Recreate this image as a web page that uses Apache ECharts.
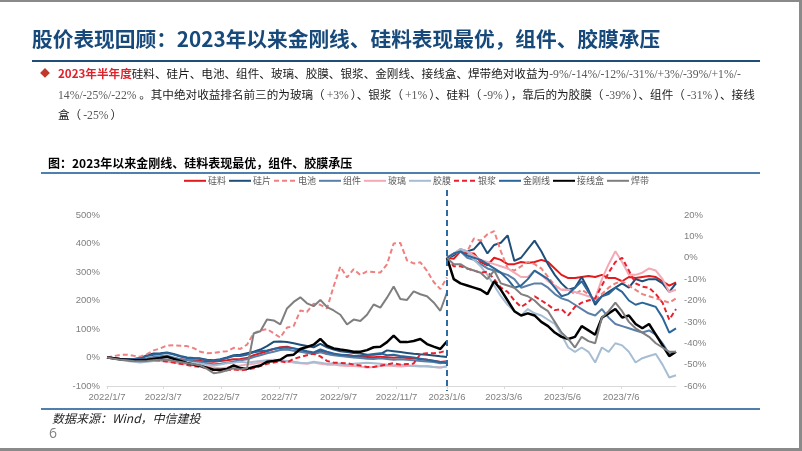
<!DOCTYPE html>
<html><head><meta charset="utf-8">
<script src="https://cdn.jsdelivr.net/npm/echarts@6/dist/echarts.min.js"></script>
<style>
html,body{margin:0;padding:0;background:#fff;}
#wrap{position:relative;width:802px;height:451px;overflow:hidden;background:#fff;font-family:"Noto Sans CJK SC","Noto Sans",sans-serif;}
#chart{position:absolute;left:0;top:0;width:802px;height:451px;}
.t{position:absolute;white-space:nowrap;}
.bar{position:absolute;}
.num{font-family:"Liberation Serif","DejaVu Serif",serif;color:#595959;font-size:11.7px;}
.pn{padding:0 2px;}
.red{color:#E0202A;font-weight:bold;}
.p{font-size:11.6px;line-height:20px;color:#1a1a1a;}
</style></head>
<body>
<div id="wrap">
  <div id="chart"></div>
  <div class="bar" style="left:0;top:0;width:802px;height:2px;background:#8a8a8a"></div>
  <div class="bar" style="left:799px;top:0;width:3px;height:451px;background:#8a8a8a"></div>
  <div class="bar" style="left:0;top:448px;width:802px;height:3px;background:#8a8a8a"></div>
  <div class="t" style="left:32px;top:25px;font-size:20.7px;line-height:26px;font-weight:bold;color:#17497A;">股价表现回顾：2023年以来金刚线、硅料表现最优，组件、胶膜承压</div>
  <div class="bar" style="left:32px;top:60px;width:728px;height:2px;background:#1F4E79"></div>
  <div class="t" style="left:40px;top:66px;font-size:10px;line-height:14px;color:#C0392B;">◆</div>
  <div class="t p" style="left:58px;top:63px;"><span class="red">2023年半年度</span>硅料、硅片、电池、组件、玻璃、胶膜、银浆、金刚线、接线盒、焊带绝对收益为<span class="num">-9%/-14%/-12%/-31%/+3%/-39%/+1%/-</span></div>
  <div class="t p" style="left:58px;top:83.5px;"><span class="num">14%/-25%/-22%</span> 。其中绝对收益排名前三的为玻璃（<span class="num pn">+3%</span>）、银浆（<span class="num pn">+1%</span>）、硅料（<span class="num pn">-9%</span>），靠后的为胶膜（<span class="num pn">-39%</span>）、组件（<span class="num pn">-31%</span>）、接线</div>
  <div class="t p" style="left:58px;top:104px;">盒（<span class="num pn">-25%</span>）</div>
  <div class="t" style="left:48px;top:155px;font-size:12px;line-height:16px;font-weight:bold;color:#000;">图：2023年以来金刚线、硅料表现最优，组件、胶膜承压</div>
  <div class="bar" style="left:41px;top:172px;width:719px;height:2px;background:#4F7FAD"></div>
  <div class="bar" style="left:41px;top:408px;width:719px;height:2px;background:#4F7FAD"></div>
  <div class="t" style="left:52px;top:410px;font-size:12px;line-height:16px;font-style:italic;color:#262626;">数据来源：Wind，中信建投</div>
  <div class="t" style="left:49px;top:424px;font-size:14px;line-height:18px;color:#808080;font-family:'Open Sans','Noto Sans',sans-serif;">6</div>
</div>
<script>
// ---- categories ----
const seriesNames = ['硅料','硅片','电池','组件','玻璃','胶膜','银浆','金刚线','接线盒','焊带'];
const leftDates = ['2022/1/7','2022/1/14','2022/1/21','2022/1/28','2022/2/4','2022/2/11','2022/2/18','2022/2/25','2022/3/4','2022/3/11','2022/3/18','2022/3/25','2022/4/1','2022/4/8','2022/4/15','2022/4/22','2022/4/29','2022/5/6','2022/5/13','2022/5/20','2022/5/27','2022/6/3','2022/6/10','2022/6/17','2022/6/24','2022/7/1','2022/7/8','2022/7/15','2022/7/22','2022/7/29','2022/8/5','2022/8/12','2022/8/19','2022/8/26','2022/9/2','2022/9/9','2022/9/16','2022/9/23','2022/9/30','2022/10/7','2022/10/14','2022/10/21','2022/10/28','2022/11/4','2022/11/11','2022/11/18','2022/11/25','2022/12/2','2022/12/9','2022/12/16','2022/12/23','2022/12/30'];
const rightDates = ['2023/1/6','2023/1/13','2023/1/20','2023/1/27','2023/2/3','2023/2/10','2023/2/17','2023/2/24','2023/3/3','2023/3/10','2023/3/17','2023/3/24','2023/3/31','2023/4/7','2023/4/14','2023/4/21','2023/4/28','2023/5/5','2023/5/12','2023/5/19','2023/5/26','2023/6/2','2023/6/9','2023/6/16','2023/6/23','2023/6/30','2023/7/7','2023/7/14','2023/7/21','2023/7/28','2023/8/4','2023/8/11','2023/8/18','2023/8/25','2023/9/1'];
const leftTickDates = ['2022/1/7','2022/3/7','2022/5/7','2022/7/7','2022/9/7','2022/11/7'];
const rightTickDates = ['2023/1/6','2023/3/6','2023/5/6','2023/7/6'];
const dividerDate = '2023/1/6';

// ---- left panel (2022, %, left axis) ----
const siliconL = [0,-3,-5,-6,-8,-8,-5,-3,0,3,-3,-6,-9,-10,-12,-14,-15,-12,-10,-6,-5,-2,8,15,22,30,36,38,32,26,20,15,22,13,10,10,9,5,3,2,1,3,1,-1,1,-2,-3,-6,-8,-11,-16,-13];
const waferL = [0,-3,-6,-7,-5,-2,8,14,15,18,12,5,0,-2,-3,-8,-10,-6,0,8,10,15,20,28,40,55,56,54,50,45,40,36,48,36,28,22,19,16,14,10,10,12,25,22,19,16,13,11,10,7,4,2];
const cellL = [0,5,9,10,6,3,12,25,32,42,43,41,40,33,20,15,16,20,22,34,30,45,85,95,100,85,70,105,110,165,160,189,185,172,250,319,281,310,290,302,300,298,327,400,402,341,330,334,304,265,240,281];
const moduleL = [0,-2,-5,-7,-9,-8,-3,2,4,6,0,-6,-10,-13,-16,-20,-24,-22,-18,-14,-10,-6,2,8,15,20,26,28,24,20,16,12,18,12,8,5,3,0,-2,-4,-5,-3,-5,-8,-6,-8,-10,-12,-14,-16,-20,-16];
const glassL = [0,-3,-6,-10,-12,-14,-12,-10,-12,-15,-18,-22,-25,-28,-30,-32,-35,-38,-35,-30,-28,-25,-22,-18,-15,-12,-12,-15,-18,-20,-22,-18,-22,-25,-25,-28,-30,-30,-32,-35,-33,-30,-28,-30,-32,-30,-28,-30,-32,-33,-35,-30];
const filmL = [0,-4,-8,-12,-15,-18,-15,-12,-8,-5,-10,-15,-18,-20,-22,-25,-28,-25,-20,-18,-15,-18,-15,-12,-10,-8,-10,-12,-15,-18,-20,-15,-18,-22,-20,-22,-25,-22,-20,-18,-20,-22,-25,-28,-25,-28,-30,-32,-30,-33,-35,-32];
const pasteL = [0,-2,-5,-7,-9,-10,-9,-9,-11,-14,-18,-22,-26,-30,-33,-37,-44,-47,-45,-42,-45,-42,-38,-30,-22,-18,-13,-18,-5,2,8,13,4,-12,-18,-19,-20,-25,-28,-33,-33,-29,-24,-20,-25,-23,-21,12,15,15,18,25];
const wireL = [0,-2,-5,-6,-6,-3,5,10,12,16,10,3,-2,-3,-5,-10,-12,-8,-2,5,5,10,18,22,25,30,33,35,32,28,22,18,28,20,14,10,8,5,6,8,12,15,8,10,5,3,0,-4,-8,-12,-16,-20];
const boxL = [0,-3,-6,-8,-10,-10,-8,-5,-2,3,-5,-12,-19,-25,-30,-36,-43,-43,-40,-28,-37,-40,-33,-28,-15,-12,-8,7,10,30,37,45,65,42,32,28,25,20,20,26,36,38,54,77,54,54,58,65,47,38,30,57];
const ribbonL = [0,-4,-8,-10,-12,-13,-12,-10,-8,-8,-12,-16,-20,-24,-28,-40,-55,-52,-45,-38,-42,-38,84,92,133,130,116,172,195,211,190,180,202,177,165,150,116,133,128,150,186,175,210,249,205,202,232,222,215,193,164,228];

// ---- right panel (2023, %, right axis) ----
const siliconR = [0,-0.5,3,2,2,-2,-3.5,0,-1,-3,-3,-2,-2.5,-2,-1,-2,-5,-8,-9.5,-9.5,-9,-8.5,-9,-8,-9.5,-9.5,-11,-9,-9.5,-9,-8.5,-9,-11,-13,-11.5];
const waferR = [0,1,4,3,4,7.5,2,6,7,10.5,-1.5,0,4,8,3,-3,-8,-12,-15,-14,-9,-15,-22,-18,-16,-14,-12,-14,-10,-11,-10,-10,-12,-16,-12];
const cellR = [0,2,3,3,9,8,11,12.5,3,-5,-6,-4,-2,-3,-5,-9,-13,-15,-15,-17,-15,-17,-20,-17,-14,-12,-11,-13,-15,-17,-18,-19,-20,-21,-19];
const moduleR = [0,2,3,0,-1,-3,-5,-6,-7,-8,-10,-14,-13,-12,-12,-14,-17,-19,-20,-22,-24,-26,-27,-24,-28,-31,-32,-33,-34,-35,-34,-36,-40,-45,-44];
const glassR = [0,2,4,3,1,-1,-2,-3,-4,-5,-7,-9,-9,-6,-8,-11,-13,-15,-15,-16,-17,-18,-19,-10,-3,3,-2,-8,-8,-7,-5,-6,-10,-16,-15];
const filmR = [0,2,4,3,-1,-4,-8,-13,-18,-22,-25,-27,-24,-26,-27,-29,-31,-36,-42,-44,-42,-44,-49,-42,-44,-40,-41,-44,-49,-47,-46,-45,-50,-56,-55];
const pasteR = [0,-4,-4,-5,-6,-7,-6.5,-10,-14,-16,-20,-23,-21,-18,-20,-22,-24.5,-24,-27,-23,-21,-20,-19,-13,-7,-2,0,-6,-12,-13.5,-14,-17,-21,-29,-24];
const wireR = [0,2,3,1,0,-1,-3,-5,-7,-10,-14,-13,-10,-6,-8,-10,-14,-18,-17,-14,-11,-16,-21,-18,-17,-14,-16,-20,-22,-21,-22,-23,-28,-35,-33];
const boxR = [0,-10,-12,-13,-14,-15,-17,-11,-15,-20,-25,-27,-26,-27,-30,-32,-35,-37,-38,-37,-32,-34,-36,-28,-26,-24,-28,-27,-31,-33,-31,-36,-41,-46,-44];
const ribbonR = [0,-3,-3,-5,-6,-7,-10,-6,-12,-13,-14,-17,-18,-20,-23,-25,-30,-35,-38,-42,-37,-39,-40,-28,-25,-21,-25,-30,-33,-35,-37,-40,-42,-44,-44];

const leftValues = [siliconL, waferL, cellL, moduleL, glassL, filmL, pasteL, wireL, boxL, ribbonL];
const rightValues = [siliconR, waferR, cellR, moduleR, glassR, filmR, pasteR, wireR, boxR, ribbonR];

// ---- styles ----
const lineStyles = [
  {color:'#E31A1C', width:2, type:'solid'},
  {color:'#1F4E79', width:2, type:'solid'},
  {color:'#F08080', width:2, type:[5,3]},
  {color:'#5B7FA8', width:2, type:'solid'},
  {color:'#F4A9B5', width:2, type:'solid'},
  {color:'#A6BDD4', width:2, type:'solid'},
  {color:'#E8212E', width:2, type:[5,3]},
  {color:'#2A6699', width:2, type:'solid'},
  {color:'#000000', width:2.5, type:'solid'},
  {color:'#7F7F7F', width:2, type:'solid'}
];

function toTs(s){const p=s.split('/').map(Number);return new Date(p[0],p[1]-1,p[2]).getTime();}
function fmt(v){const d=new Date(v);return d.getFullYear()+'/'+(d.getMonth()+1)+'/'+d.getDate();}

const axisFont = {fontSize:9.5, color:'#7f7f7f', fontFamily:'"Liberation Sans Narrow","Liberation Sans",sans-serif'};

const series = [];
seriesNames.forEach((name, k) => {
  const st = lineStyles[k];
  series.push({
    name, type:'line', xAxisIndex:0, yAxisIndex:0, symbol:'none', silent:true,
    lineStyle:st, itemStyle:{color:st.color},
    data: leftDates.map((d,i)=>[toTs(d), leftValues[k][i]])
  });
  series.push({
    name, type:'line', xAxisIndex:1, yAxisIndex:1, symbol:'none', silent:true,
    lineStyle:st, itemStyle:{color:st.color},
    data: rightDates.map((d,i)=>[toTs(d), rightValues[k][i]])
  });
});

function xAxisFor(gridIndex, dates, ticks){
  const tv = ticks.map(toTs);
  return {type:'value', gridIndex, min:toTs(dates[0]), max:toTs(dates[dates.length-1]),
    axisLine:{show:true, onZero:false, lineStyle:{color:'#d9d9d9'}},
    axisTick:{show:true, length:3, customValues:tv, lineStyle:{color:'#d9d9d9'}},
    axisLabel:Object.assign({customValues:tv, formatter:fmt, margin:6}, axisFont),
    splitLine:{show:false}};
}

const chart = echarts.init(document.getElementById('chart'), null, {renderer:'canvas'});
chart.setOption({
  animation:false,
  legend:{
    data:seriesNames, left:183, top:176, padding:0, itemWidth:22, itemHeight:12, itemGap:2,
    itemStyle:{opacity:0},
    textStyle:{fontSize:9, color:'#595959', fontFamily:'"Noto Sans CJK SC",sans-serif', padding:[0,0,0,-3]}
  },
  grid:[
    {left:107, top:215, width:340, height:171},
    {left:447, top:215, width:229, height:171}
  ],
  xAxis:[ xAxisFor(0, leftDates, leftTickDates), xAxisFor(1, rightDates, rightTickDates) ],
  yAxis:[
    {type:'value', gridIndex:0, min:-100, max:500, interval:100,
     axisLine:{show:false}, axisTick:{show:false}, splitLine:{show:false},
     axisLabel:Object.assign({formatter:'{value}%', margin:7}, axisFont)},
    {type:'value', gridIndex:1, position:'right', min:-60, max:20, interval:10,
     axisLine:{show:false}, axisTick:{show:false}, splitLine:{show:false},
     axisLabel:Object.assign({formatter:'{value}%', margin:8}, axisFont)}
  ],
  series
});
const dx = chart.convertToPixel({xAxisIndex:1}, toTs(dividerDate));
chart.setOption({
  graphic:[{type:'line', silent:true, z:50,
    shape:{x1:dx, y1:190, x2:dx, y2:391},
    style:{stroke:'#2E6BA3', lineWidth:2, lineDash:[6,4]}}]
});
</script>
</body></html>
